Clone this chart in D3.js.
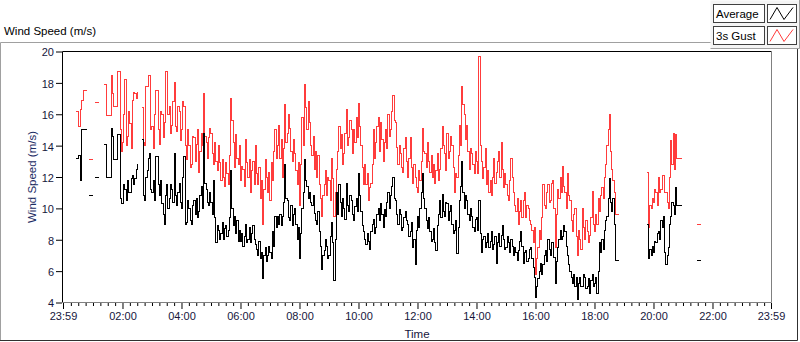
<!DOCTYPE html>
<html>
<head>
<meta charset="utf-8">
<script src="https://cdn.jsdelivr.net/npm/d3@7"></script>
<style>
  body { margin: 0; background: #fff; }
  svg { display: block; font-family: "Liberation Sans", Arial, sans-serif; }
</style>
</head>
<body>
<svg id="chart" width="800" height="342"></svg>
<script>
// logged every 2.5 minutes from 00:25, null = no data
const firstSampleMin = 25;
const stepMinutes = 2.5;

const gust = [
  16.2, 16.2, 15.2, 15.2, 16.3, 16.9, 17.5, 17.5, 17.5, 17.5,
  null, 13.1, 13.1, 13.1, 13.1, null, 16.75, 16.75, 16.75, 16.75,
  null, null, null, 17.9, 17.9, 15.9, 15.9, 15.9, 15.9, 18.5,
  17.3, 16.5, 16.5, 16.5, 18.7, 18.7, 15.0, 13.6, 14.2, 16.0,
  18.2, 14.0, 14.6, 16.2, 15.4, 13.8, 16.9, 17.4, 17.3, 17.0,
  17.4, null, null, null, 16.4, 14.2, 14.0, 17.8, 17.8, 18.5,
  18.5, 15.0, 15.2, 13.8, 16.0, 17.5, 17.5, 15.0, 14.1, 16.2,
  16.0, 14.5, 15.5, 18.7, 18.7, 16.0, 16.5, 14.8, 15.3, 16.8,
  18.0, 15.2, 14.9, 16.5, 16.2, 14.3, 15.0, 16.8, 16.5, 14.0,
  13.1, 15.0, 14.0, 12.6, 12.8, 14.6, 14.5, 13.0, 14.1, 15.0,
  12.3, 13.6, 14.8, 14.0, 17.3, 14.6, 14.2, 13.2, 14.5, 15.1,
  14.8, 13.5, 12.8, 14.2, 13.0, 12.4, 14.0, 12.9, 11.8, 13.1,
  12.0, 11.4, 12.9, 12.2, 11.5, 13.4, 17.0, 15.6, 14.2, 12.6,
  14.7, 13.2, 12.8, 14.0, 11.8, 12.7, 12.5, 11.4, 14.4, 12.9,
  12.0, 13.1, 11.0, 12.4, 13.0, 11.5, 14.0, 12.2, 11.5, 12.6,
  10.6, 11.8, 9.0, 11.2, 13.1, 12.0, 11.0, 12.3, 10.5, 12.9,
  11.8, 13.6, 15.0, 13.2, 14.0, 15.3, 13.2, 14.4, 12.0, 13.8,
  16.6, 14.2, 14.8, 16.0, 15.1, 13.6, 13.0, 14.4, 13.5, 12.4,
  11.5, 12.9, 10.2, 12.8, 15.8, 14.0, 17.9, 16.4, 15.0, 16.8,
  15.5, 14.0, 13.4, 14.6, 12.5, 13.6, 12.0, 13.4, 11.5, 10.6,
  9.5, 10.8, 11.5, 12.4, 10.8, 12.0, 11.8, 10.5, 13.2, 11.9,
  9.5, 11.0, 12.5, 13.6, 15.2, 13.8, 14.7, 12.8, 13.5, 14.8,
  16.3, 14.0, 14.5, 15.6, 15.0, 13.5, 15.0, 14.2, 15.8, 14.5,
  16.7, 15.2, 14.0, 12.6, 11.5, 12.8, 11.5, 12.2, 10.5, 11.3,
  11.6, 12.8, 15.0, 13.2, 14.2, 15.2, 15.8, 13.6, 15.5, 14.4,
  13.0, 14.2, 15.0, 13.8, 16.0, 14.6, 15.0, 16.2, 17.2, 15.6,
  15.5, 13.9, 12.8, 14.0, 13.5, 12.6, 12.3, 13.8, 14.5, 13.0,
  12.0, 13.2, 14.5, 12.6, 11.6, 12.8, 12.0, 11.3, 11.0, 12.4,
  11.8, 13.0, 15.1, 13.6, 13.5, 12.6, 14.2, 13.0, 12.3, 13.4,
  12.0, 12.8, 11.6, 12.4, 13.5, 11.8, 12.5, 13.8, 15.2, 14.0,
  13.5, 12.4, 14.8, 13.2, 13.6, 14.6, 14.0, 12.6, 11.0, 12.2,
  12.0, 13.4, 15.3, 14.0, 17.75, 16.6, 16.0, 14.4, 15.3, 13.6,
  12.5, 13.8, 13.5, 12.8, 12.2, 13.6, 13.0, 12.2, 19.7, 14.0,
  13.0, 11.9, 12.6, 13.8, 11.5, 12.4, 11.0, 11.8, 10.8, 12.0,
  13.2, 11.6, 12.3, 13.0, 13.6, 12.0, 14.2, 12.5, 11.3, 12.2,
  11.5, 10.8, 10.5, 11.8, 13.2, 12.0, 11.0, 10.2, 9.8, 10.6,
  9.0, 9.8, 10.5, 9.4, 10.5, 11.0, 9.4, 10.2, 10.0, 9.2,
  9.0, 8.6, 7.8, 8.8, 5.8, 6.8, 7.5, 8.6, 8.0, 9.4,
  11.5, 10.2, 10.0, 11.0, 11.5, 10.4, 10.5, 11.6, 11.8, 10.0,
  7.5, 9.6, 11.2, 10.6, 12.0, 11.0, 12.7, 11.4, 11.0, 10.0,
  12.2, 10.8, 10.5, 9.2, 8.5, 9.6, 10.0, 8.2, 7.0, 8.6,
  8.0, 7.4, 10.0, 8.8, 8.0, 9.2, 8.5, 7.8, 8.3, 9.4,
  11.1, 9.0, 8.5, 9.6, 9.0, 10.6, 9.8, 10.8, 11.3, 10.6,
  12.0, 12.8, 14.0, 15.0, 16.0, 13.6, 12.5, 11.8, 11.0, 9.6,
  9.6, 9.6, 9.6, null, null, null, null, null, null, null,
  null, null, null, null, null, null, null, null, null, null,
  null, null, null, null, null, 12.3, 8.8, 10.2, 10.0, 10.6,
  10.4, 11.2, 11.0, 10.2, 12.0, 11.0, 11.2, 12.1, 12.1, 11.0,
  11.0, 10.4, 10.0, 12.0, 14.3, 12.8, 14.8, 12.5, 14.7, 13.2,
  13.2, 13.2, 13.2, 13.2, null, null, null, null, null, null,
  null, null, null, null, null, 9.0, 9.0, 9.0, 9.0, 9.0
];

const average = [
  13.2, 13.2, 13.4, 13.4, 11.8, 15.0, 15.0, 15.0, 15.0, 15.0,
  null, 10.8, 10.8, 10.8, 10.8, null, 12.0, 12.0, 12.0, 12.0,
  null, null, null, 14.1, 14.1, 12.0, 12.0, 12.0, 12.0, 15.1,
  14.6, 13.1, 13.1, 13.1, 14.7, 14.7, 10.6, 10.3, 10.3, 11.5,
  11.2, 10.5, 11.8, 11.0, 11.0, 11.9, 12.1, 11.5, 11.9, 12.5,
  12.8, null, null, null, 14.4, 10.8, 10.5, 12.0, 12.4, 13.2,
  13.5, 11.2, 11.0, 11.8, 10.5, 13.3, 13.3, 11.5, 10.8, 11.8,
  10.3, 9.6, 9.0, 10.8, 11.5, 10.0, 10.6, 11.5, 11.2, 10.4,
  13.5, 10.8, 10.2, 11.0, 11.6, 10.4, 10.0, 12.0, 13.3, 9.0,
  9.1, 10.5, 10.0, 9.2, 9.0, 10.2, 10.5, 9.6, 10.6, 9.4,
  9.8, 10.8, 11.4, 10.0, 14.8, 11.6, 11.2, 10.4, 10.2, 11.0,
  10.4, 9.6, 11.8, 9.4, 7.8, 8.9, 8.6, 8.0, 8.4, 9.1,
  8.0, 8.7, 8.9, 8.2, 8.6, 9.4, 12.4, 10.0, 8.9, 9.5,
  8.4, 9.2, 7.9, 8.6, 7.9, 8.4, 7.6, 8.2, 9.0, 7.8,
  8.0, 8.8, 7.8, 8.4, 8.9, 8.0, 7.7, 7.4, 7.0, 7.9,
  6.8, 7.2, 5.5, 7.0, 7.5, 6.6, 7.0, 7.6, 7.2, 6.8,
  8.5, 7.6, 9.5, 8.8, 9.5, 9.0, 9.6, 8.9, 9.5, 10.4,
  12.8, 10.6, 10.5, 9.4, 9.2, 10.2, 8.9, 9.6, 10.0, 9.0,
  8.0, 8.8, 6.8, 8.4, 10.0, 11.0, 13.1, 11.8, 11.4, 10.6,
  11.0, 10.4, 10.2, 10.8, 9.7, 9.2, 9.0, 9.8, 8.5, 7.6,
  6.1, 7.0, 7.3, 8.0, 7.6, 6.8, 7.0, 8.2, 9.1, 7.8,
  5.4, 8.0, 11.0, 9.6, 11.5, 10.4, 9.5, 10.6, 10.0, 9.3,
  11.6, 10.2, 9.8, 10.8, 10.5, 9.6, 9.2, 10.1, 10.6, 9.8,
  12.2, 10.8, 9.8, 8.9, 8.5, 8.0, 7.7, 8.4, 7.9, 7.4,
  8.5, 9.0, 9.3, 8.4, 8.8, 9.6, 10.0, 9.2, 10.3, 9.6,
  8.8, 9.9, 9.5, 10.4, 11.0, 10.0, 10.8, 11.4, 12.0, 10.6,
  10.5, 9.6, 9.0, 9.9, 9.6, 8.6, 8.8, 9.4, 9.8, 9.2,
  9.0, 8.2, 8.5, 9.1, 7.5, 8.0, 6.4, 8.6, 9.5, 8.8,
  10.0, 11.0, 12.2, 10.6, 10.0, 9.2, 8.7, 9.4, 8.5, 7.9,
  8.0, 8.7, 7.8, 7.3, 8.9, 9.6, 10.5, 9.4, 10.9, 9.8,
  9.5, 10.4, 10.3, 9.2, 9.8, 10.2, 9.0, 8.4, 8.6, 9.2,
  7.1, 8.8, 10.5, 11.4, 13.0, 11.0, 10.0, 10.8, 10.5, 9.6,
  9.2, 10.0, 9.5, 8.8, 8.5, 9.3, 9.4, 8.6, 10.5, 8.4,
  7.2, 8.0, 8.2, 7.5, 7.8, 8.4, 7.5, 7.9, 8.5, 7.4,
  7.7, 8.2, 6.5, 7.8, 8.4, 7.6, 8.3, 8.9, 8.0, 7.4,
  7.5, 8.2, 7.8, 7.2, 8.0, 7.6, 7.0, 7.5, 7.2, 6.7,
  7.3, 7.9, 8.5, 7.6, 6.5, 7.2, 7.3, 6.6, 6.8, 7.4,
  7.5, 6.8, 6.2, 5.6, 4.3, 5.0, 5.5, 6.0, 6.5, 5.8,
  6.4, 7.0, 7.3, 6.6, 8.0, 7.4, 7.0, 7.8, 7.8, 6.9,
  5.2, 6.6, 7.5, 8.0, 8.6, 8.0, 8.2, 8.9, 8.5, 7.6,
  7.0, 6.4, 6.0, 5.6, 5.2, 5.8, 5.0, 5.6, 4.2, 5.2,
  5.6, 5.0, 5.0, 5.8, 5.6, 4.9, 5.0, 5.5, 4.6, 5.4,
  5.8, 5.0, 5.2, 5.6, 4.6, 6.0, 7.8, 7.2, 8.0, 7.4,
  8.6, 9.2, 9.5, 10.6, 11.9, 10.4, 9.8, 10.6, 9.0, 6.7,
  6.7, 6.7, 6.7, null, null, null, null, null, null, null,
  null, null, null, null, null, null, null, null, null, null,
  null, null, null, null, null, 9.0, 6.8, 7.4, 7.0, 7.6,
  7.2, 7.9, 7.8, 8.4, 8.5, 8.0, 9.2, 8.8, 9.5, 7.2,
  6.4, 7.0, 7.5, 9.0, 9.5, 10.4, 10.2, 9.6, 11.3, 10.2,
  10.2, 10.2, 10.2, 10.2, null, null, null, null, null, null,
  null, null, null, null, null, 6.7, 6.7, 6.7, 6.7, 6.7
];

const seriesNames = ["Average", "3s Gust"];
const seriesColors = ["#000000", "#ff3c3c"];
const yTicks = [4, 6, 8, 10, 12, 14, 16, 18, 20];
const xTickMinutes = [-1, 120, 240, 360, 480, 600, 720, 840, 960, 1080, 1200, 1320, 1439];

const dayStart = new Date(2000, 0, 2, 0, 0);
const atMinute = m => new Date(dayStart.getTime() + m * 60000);

const svg = d3.select("#chart");
const plot = { left: 62.5, right: 771.5, top: 51.5, bottom: 302.5 };
const tickColor = "#16163c";

const x = d3.scaleTime()
  .domain([atMinute(-1), atMinute(1439)])
  .range([63, 771]);
const y = d3.scaleLinear()
  .domain([4, 20])
  .range([plot.bottom, plot.top]);

// outer panel frame
svg.append("path")
  .attr("d", "M0.5,341 V42.5 H712.5")
  .attr("fill", "none").attr("stroke", "#a0a0a0");
svg.append("path")
  .attr("d", "M0,340.5 H797.5 V48.5")
  .attr("fill", "none").attr("stroke", "#303030");

svg.append("text")
  .attr("x", 4).attr("y", 35)
  .attr("font-size", "11.5px")
  .attr("fill", "#000")
  .text("Wind Speed (m/s)");

// plot area
svg.append("rect")
  .attr("x", plot.left).attr("y", plot.top)
  .attr("width", plot.right - plot.left).attr("height", plot.bottom - plot.top)
  .attr("fill", "#fff");

const makePoints = vals => vals.map((v, i) => ({ t: atMinute(firstSampleMin + i * stepMinutes), v: v }));

const line = d3.line()
  .defined(d => d.v != null)
  .x(d => x(d.t))
  .y(d => y(d.v))
  .curve(d3.curveStepAfter);

svg.append("clipPath").attr("id", "plotClip")
  .append("rect")
  .attr("x", plot.left).attr("y", plot.top)
  .attr("width", plot.right - plot.left).attr("height", plot.bottom - plot.top);

const lines = svg.append("g").attr("clip-path", "url(#plotClip)");
lines.append("path")
  .datum(makePoints(gust))
  .attr("d", line)
  .attr("fill", "none")
  .attr("stroke", seriesColors[1])
  .attr("stroke-width", 1)
  .attr("shape-rendering", "crispEdges");
lines.append("path")
  .datum(makePoints(average))
  .attr("d", line)
  .attr("fill", "none")
  .attr("stroke", seriesColors[0])
  .attr("stroke-width", 1)
  .attr("shape-rendering", "crispEdges");

// plot borders: dark top/left, grey bottom/right
svg.append("path")
  .attr("d", `M${plot.left},${plot.bottom} V${plot.top} H${plot.right}`)
  .attr("fill", "none").attr("stroke", "#000");
svg.append("path")
  .attr("d", `M${plot.left},${plot.bottom} H${plot.right} V${plot.top}`)
  .attr("fill", "none").attr("stroke", "#808080");

// y axis
const yAxis = svg.append("g")
  .attr("transform", `translate(${plot.left - 0.5},0)`)
  .call(d3.axisLeft(y).tickValues(yTicks).tickSize(6).tickPadding(2).tickFormat(d3.format("d")));
yAxis.select(".domain").remove();
yAxis.selectAll("line").attr("stroke", "#000");
yAxis.selectAll("text")
  .attr("font-size", "11px")
  .attr("font-family", "Liberation Sans, Arial, sans-serif")
  .attr("fill", tickColor)
  .attr("dy", "0.4em");

// x axis, minor ticks every 15 min
const minorTicks = d3.range(15, 1440, 15).filter(m => m % 120 !== 0).map(atMinute);
const xMinor = svg.append("g")
  .attr("transform", `translate(0,${plot.bottom + 0.5})`)
  .call(d3.axisBottom(x).tickValues(minorTicks).tickSize(3).tickFormat(""));
xMinor.select(".domain").remove();
xMinor.selectAll("line").attr("stroke", "#000");

const xAxis = svg.append("g")
  .attr("transform", `translate(0,${plot.bottom + 0.5})`)
  .call(d3.axisBottom(x).tickValues(xTickMinutes.map(atMinute)).tickSize(6).tickPadding(3)
    .tickFormat(d3.timeFormat("%H:%M")));
xAxis.select(".domain").remove();
xAxis.selectAll("line").attr("stroke", "#000");
xAxis.selectAll("text")
  .attr("font-size", "11px")
  .attr("font-family", "Liberation Sans, Arial, sans-serif")
  .attr("fill", tickColor);

svg.append("text")
  .attr("x", 417).attr("y", 338)
  .attr("text-anchor", "middle")
  .attr("font-size", "11.5px")
  .attr("fill", tickColor)
  .text("Time");

svg.append("text")
  .attr("transform", `translate(36,${(plot.top + plot.bottom) / 2}) rotate(-90)`)
  .attr("text-anchor", "middle")
  .attr("font-size", "11.5px")
  .attr("fill", "#1c2c64")
  .text("Wind Speed (m/s)");

// legend
const legend = svg.append("g");
legend.append("rect")
  .attr("x", 710.5).attr("y", 0.5).attr("width", 89).attr("height", 48)
  .attr("fill", "#f4f4f4").attr("stroke", "none");
legend.append("path")
  .attr("d", "M710.5,48.5 H799.5 V0")
  .attr("fill", "none").attr("stroke", "#a0a0a0");
seriesNames.forEach((name, i) => {
  const top = 4.5 + i * 22;
  const row = legend.append("g");
  row.append("rect")
    .attr("x", 713.5).attr("y", top).attr("width", 51).attr("height", 18)
    .attr("fill", "#fff").attr("stroke", "#404040");
  row.append("text")
    .attr("x", 716).attr("y", top + 13.5)
    .attr("font-size", "11.5px").attr("fill", "#000")
    .text(name);
  row.append("rect")
    .attr("x", 767.5).attr("y", top).attr("width", 29).attr("height", 18)
    .attr("fill", "#fff").attr("stroke", "#404040");
  row.append("path")
    .attr("d", `M770,${top + 15} L777,${top + 3} L784,${top + 15} L793,${top + 3}`)
    .attr("fill", "none").attr("stroke", seriesColors[i]).attr("stroke-width", 1);
});
</script>
</body>
</html>
